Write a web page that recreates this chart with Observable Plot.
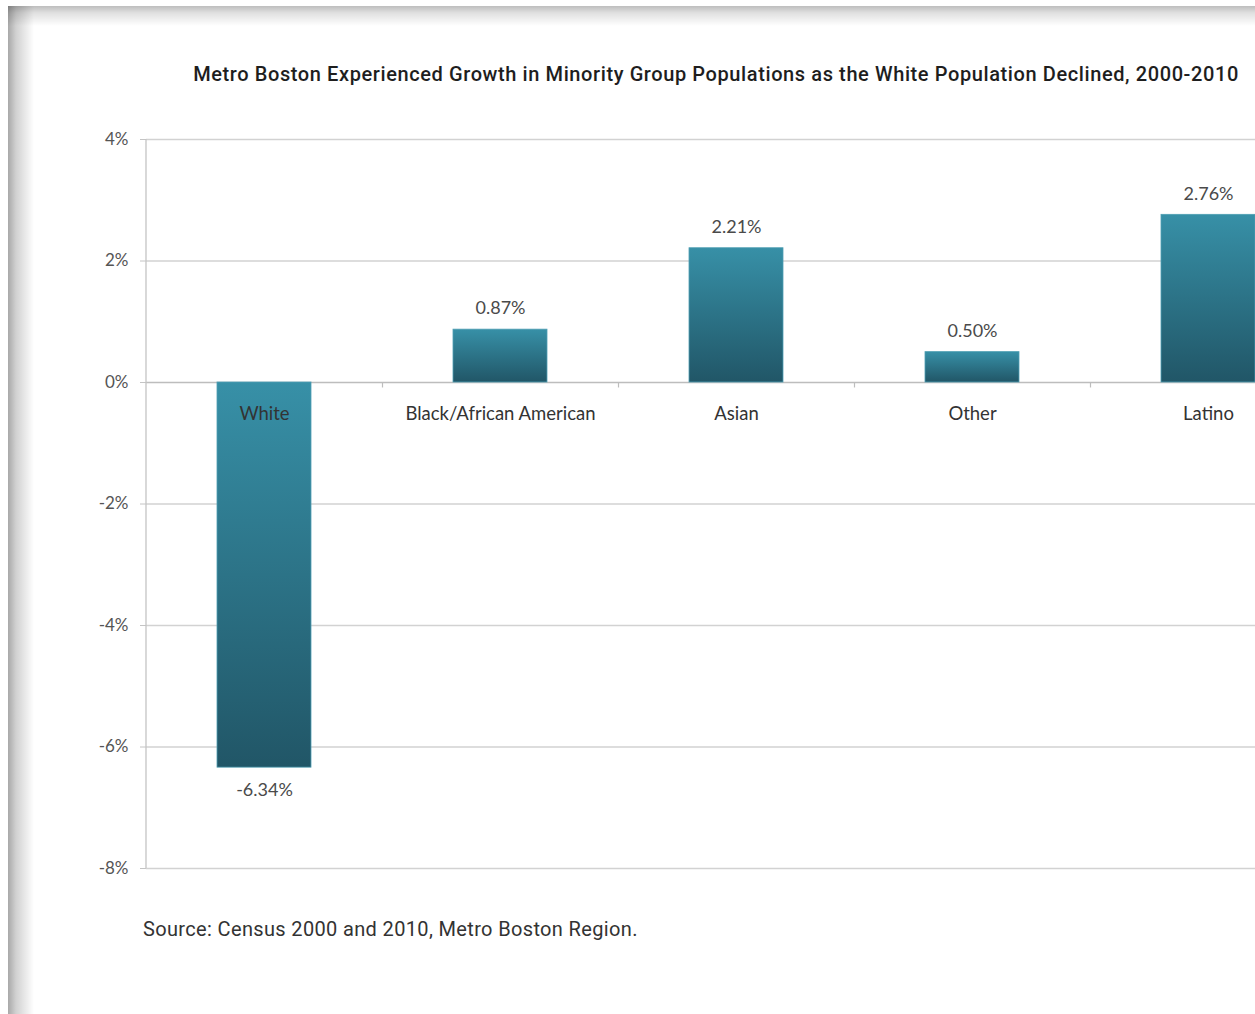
<!DOCTYPE html>
<html>
<head>
<meta charset="utf-8">
<script src="https://cdn.jsdelivr.net/npm/d3@7"></script>
<script src="https://cdn.jsdelivr.net/npm/@observablehq/plot@0.6"></script>
<style>
  html, body { margin: 0; padding: 0; background: #fff; overflow: hidden; }
  #page { position: relative; width: 1255px; height: 1014px; overflow: hidden; background: #fff; }
  #frame {
    position: absolute; left: 8px; top: 6px; right: 0; bottom: 0;
    background:
      linear-gradient(to right, rgba(0,0,0,0.34) 0px, rgba(0,0,0,0.18) 8px, rgba(0,0,0,0) 26px),
      linear-gradient(to bottom, rgba(0,0,0,0.26) 0px, rgba(0,0,0,0.12) 7px, rgba(0,0,0,0) 20px),
      #fff;
  }
  #title {
    position: absolute; left: 0; width: 1432px; top: 62px; text-align: center;
    font-family: Roboto, sans-serif; font-weight: 500; font-size: 20px; color: #1e1e1e;
    letter-spacing: 0.6px; white-space: nowrap;
  }
  #chart { position: absolute; left: 0; top: 100px; width: 1330px; }
  #chart svg { max-width: none !important; }
  #caption {
    position: absolute; left: 143px; top: 917px;
    font-family: Roboto, sans-serif; font-size: 20px; color: #333; white-space: nowrap;
    letter-spacing: 0.35px;
  }
</style>
</head>
<body>
<div id="page">
  <div id="frame"></div>
  <div id="title">Metro Boston Experienced Growth in Minority Group Populations as the White Population Declined, 2000-2010</div>
  <div id="chart"></div>
  <div id="caption">Source: Census 2000 and 2010, Metro Boston Region.</div>
</div>
<script>
const categories = ["White", "Black/African American", "Asian", "Other", "Latino"];
const values = [-6.34, 0.87, 2.21, 0.50, 2.76];
const valueLabels = ["-6.34%", "0.87%", "2.21%", "0.50%", "2.76%"];
const yTicks = [-8, -6, -4, -2, 0, 2, 4];

const data = categories.map((c, i) => ({cat: c, value: values[i], label: valueLabels[i]}));

const font = "Lato, 'Open Sans', sans-serif";

const gradientDefs = () => {
  const defs = d3.create("svg:defs");
  const g = defs.append("linearGradient").attr("id", "barGrad")
    .attr("x1", 0).attr("y1", 0).attr("x2", 0).attr("y2", 1);
  g.append("stop").attr("offset", "0%").attr("stop-color", "#3790a7");
  g.append("stop").attr("offset", "100%").attr("stop-color", "#215667");
  return defs.node();
};

const yAxisLine = (index, scales, values, dims) => {
  const x = dims.marginLeft;
  return d3.create("svg:line")
    .attr("x1", x).attr("x2", x)
    .attr("y1", scales.y(yTicks[yTicks.length - 1]))
    .attr("y2", scales.y(yTicks[0]))
    .attr("stroke", "#c4c4c4").attr("stroke-width", 1.3).node();
};

const chart = Plot.plot({
  width: 1330,
  height: 780,
  marginLeft: 146,
  marginRight: 4,
  marginTop: 39,
  marginBottom: 12,
  style: {fontFamily: font, background: "transparent", overflow: "visible", maxWidth: "none"},
  x: {domain: categories, paddingInner: 0.6, paddingOuter: 0.3, axis: null},
  y: {domain: [-8, 4]},
  marks: [
    gradientDefs,
    Plot.ruleY(yTicks.filter(d => d !== 0), {stroke: "#d2d2d2", strokeWidth: 1.3}),
    Plot.ruleY([0], {stroke: "#bdbdbd", strokeWidth: 1.4}),
    Plot.ruleX(categories.slice(1), {x: d => d, y1: 0, y2: -0.09, dx: -118, stroke: "#bdbdbd", strokeWidth: 1.2}),
    Plot.axisY({ticks: yTicks, tickFormat: d => d + "%", tickSize: 6, tickPadding: 12,
      stroke: "#c4c4c4", fill: "#555", fontSize: 17, label: null}),
    yAxisLine,
    Plot.barY(data, {x: "cat", y: "value", fill: "url(#barGrad)", stroke: "#4f9fb3", strokeWidth: 0.8}),
    Plot.text(data.filter(d => d.value >= 0), {x: "cat", y: "value", text: "label", dy: -21, fill: "#4a4a4a", fontSize: 18}),
    Plot.text(data.filter(d => d.value < 0), {x: "cat", y: "value", text: "label", dy: 23, fill: "#4a4a4a", fontSize: 18}),
    Plot.text(data, {x: "cat", y: 0, text: "cat", dy: 32, fill: "#333", fontSize: 18.5})
  ]
});

document.getElementById("chart").appendChild(chart);
</script>
</body>
</html>
